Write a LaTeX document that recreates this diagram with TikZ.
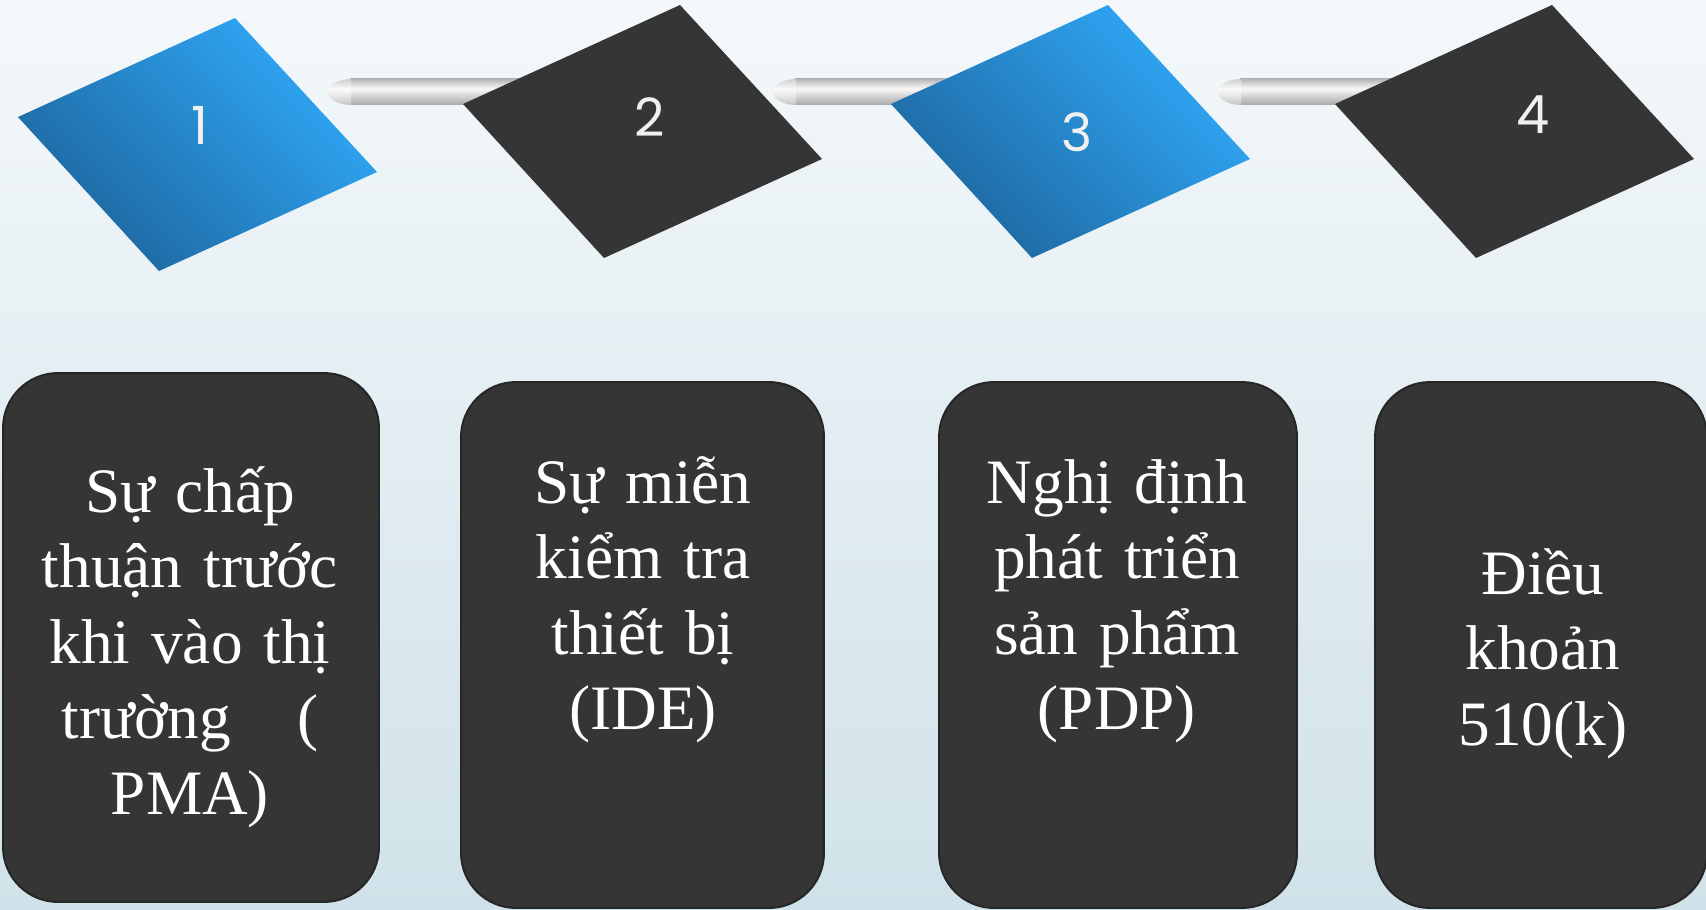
\documentclass[tikz,border=0pt]{standalone}
\usepackage{fontspec}
\setmainfont{Liberation Serif}
\newfontfamily\numfont{Poppins}
\definecolor{bgtop}{RGB}{244,248,250}
\definecolor{bgbot}{RGB}{208,226,233}
\definecolor{darkfill}{RGB}{53,53,53}
\definecolor{boxline}{RGB}{38,38,38}
\definecolor{bluedark}{RGB}{31,108,166}
\definecolor{bluelight}{RGB}{46,163,240}
\definecolor{numwhite}{RGB}{240,240,240}
\definecolor{gA}{RGB}{168,168,168}
\definecolor{gB}{RGB}{205,205,205}
\definecolor{gC}{RGB}{248,248,248}
\definecolor{gD}{RGB}{228,228,228}
\definecolor{gE}{RGB}{182,182,182}
\definecolor{cA}{RGB}{196,196,196}
\definecolor{cB}{RGB}{225,225,225}
\definecolor{cC}{RGB}{250,250,250}
\definecolor{cD}{RGB}{236,236,236}
\definecolor{cE}{RGB}{208,208,208}
\pgfdeclarehorizontalshading{bluediag}{100bp}{color(0bp)=(bluedark); color(30bp)=(bluedark); color(70bp)=(bluelight); color(100bp)=(bluelight)}
\pgfdeclareverticalshading{barshade}{100bp}{color(0bp)=(gA); color(25bp)=(gA); color(40bp)=(gB); color(56bp)=(gC); color(63bp)=(gD); color(75bp)=(gE); color(100bp)=(gE)}
\pgfdeclareverticalshading{capshade}{100bp}{color(0bp)=(cA); color(25bp)=(cA); color(40bp)=(cB); color(56bp)=(cC); color(63bp)=(cD); color(75bp)=(cE); color(100bp)=(cE)}
\begin{document}
\begin{tikzpicture}[x=0.02cm,y=-0.02cm,
  boxstyle/.style={draw=boxline, line width=0.04cm, fill=darkfill, rounded corners=1.1cm, inner sep=0pt},
  boxtext/.style={text=white, font=\fontsize{36pt}{43pt}\selectfont, text width=9cm, align=center, anchor=base, inner sep=0pt},
  numtext/.style={text=numwhite, font=\numfont\fontsize{30pt}{36pt}\selectfont, inner sep=0pt},
  bluediamond/.style={shading=bluediag, shading angle=45},
  darkdiamond/.style={fill=darkfill},
  barbody/.style={shading=barshade},
  barcap/.style={shading=capshade}]
\useasboundingbox (0,0) rectangle (1706,909);
\shade[top color=bgtop, bottom color=bgbot] (0,0) rectangle (1706,909);

% diamond corner coordinates
\foreach \n/\lx/\ly in {1/18/117, 2/463/104, 3/891/104, 4/1335/104} {
  \coordinate (d\n-L) at (\lx,\ly);
  \coordinate (d\n-T) at (\lx+217,\ly-99);
  \coordinate (d\n-R) at (\lx+359,\ly+55);
  \coordinate (d\n-B) at (\lx+141,\ly+154);
}

% connector bars (running under the next diamond)
\foreach \s/\e in {328/560, 773/1000, 1218/1440} {
  \shade[barbody] (\s+22,79) -- (\e,79) -- (\e,105) -- (\s+22,105) -- cycle;
  \shade[barcap] (\s+23,79) -- (\s+23,105) arc[start angle=90,end angle=270,x radius=23,y radius=13] -- cycle;
}

% diamonds
\shade[bluediamond] (d1-L) -- (d1-T) -- (d1-R) -- (d1-B) -- cycle;
\fill[darkdiamond] (d2-L) -- (d2-T) -- (d2-R) -- (d2-B) -- cycle;
\shade[bluediamond] (d3-L) -- (d3-T) -- (d3-R) -- (d3-B) -- cycle;
\fill[darkdiamond] (d4-L) -- (d4-T) -- (d4-R) -- (d4-B) -- cycle;

\node[numtext] (n1) at (200,125) {1};
\node[numtext] (n2) at (650,117) {2};
\node[numtext] (n3) at (1077,132) {3};
\node[numtext] (n4) at (1533,115) {4};

% boxes
\node[boxstyle, minimum width=7.52cm, minimum height=10.58cm] (b1) at (191,637.5) {};
\node[boxstyle, minimum width=7.26cm, minimum height=10.52cm] (b2) at (642.5,645) {};
\node[boxstyle, minimum width=7.16cm, minimum height=10.52cm] (b3) at (1118,645) {};
\node[boxstyle, minimum width=6.64cm, minimum height=10.52cm] (b4) at (1541,645) {};

\node[boxtext] (t1) at (190,512) {Sự chấp\\thuận trước\\khi vào thị\\trường\hspace{1.05em}(\\PMA)};
\node[boxtext] (t2) at (643,503) {Sự miễn\\kiểm tra\\thiết bị\\(IDE)};
\node[boxtext] (t3) at (1117,503) {Nghị định\\phát triển\\sản phẩm\\(PDP)};
\node[boxtext] (t4) at (1543,594) {Điều\\khoản\\510(k)};
\end{tikzpicture}
\end{document}
